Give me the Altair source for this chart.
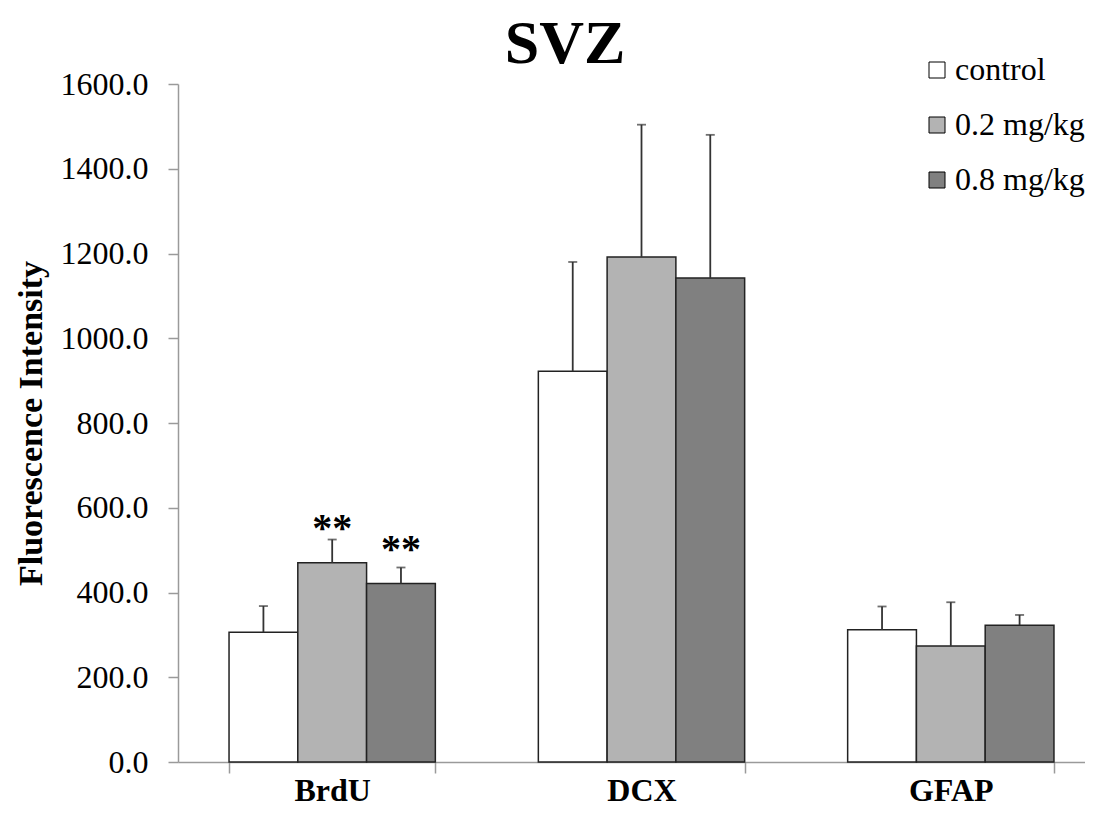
import altair as alt
import pandas as pd

categories = ["BrdU", "DCX", "GFAP"]
groups = ["control", "0.2 mg/kg", "0.8 mg/kg"]
colors = ["#ffffff", "#b3b3b3", "#808080"]

mean_control = [306, 922, 312]
mean_02 = [470, 1192, 274]
mean_08 = [421, 1142, 323]

err_control = [62, 258, 55]
err_02 = [55, 312, 103]
err_08 = [38, 338, 24]

stars_control = ["", "", ""]
stars_02 = ["**", "", ""]
stars_08 = ["**", "", ""]

chart_title = ["SVZ"]

rows = []
for g, ms, es, ss in [
    ("control", mean_control, err_control, stars_control),
    ("0.2 mg/kg", mean_02, err_02, stars_02),
    ("0.8 mg/kg", mean_08, err_08, stars_08),
]:
    for c, m, e, s in zip(categories, ms, es, ss):
        rows.append({"category": c, "group": g, "mean": m, "err": e, "star": s})
df = pd.DataFrame(rows)

FONT = "Liberation Serif"
AX = "#9a9a9a"

base = alt.Chart(df).transform_calculate(top="datum.mean + datum.err").encode(
    x=alt.X(
        "category:N",
        sort=categories,
        scale=alt.Scale(range=[0, 927], paddingInner=0.333, paddingOuter=0.165),
        axis=alt.Axis(
            title=None,
            labelAngle=0,
            labelFont=FONT,
            labelFontSize=32,
            labelFontWeight="bold",
            labelColor="black",
            labelPadding=2,
            tickBand="extent",
            tickSize=11,
            tickColor=AX,
            domainColor=AX,
            domainWidth=1.5,
            tickWidth=1.5,
        ),
    ),
    xOffset=alt.XOffset("group:N", sort=groups, scale=alt.Scale(paddingInner=0, paddingOuter=0)),
)

yscale = alt.Scale(domain=[0, 1600], nice=False)
yaxis = alt.Axis(
    title="Fluorescence Intensity",
    titleFont=FONT,
    titleFontSize=34,
    titleFontWeight="bold",
    titleColor="black",
    titlePadding=12,
    values=[0, 200, 400, 600, 800, 1000, 1200, 1400, 1600],
    format=".1f",
    labelFont=FONT,
    labelFontSize=32,
    labelColor="black",
    labelPadding=20,
    tickSize=10,
    tickColor=AX,
    tickWidth=1.5,
    domainColor=AX,
    domainWidth=1.5,
    grid=False,
)

bars = base.mark_bar(stroke="#222222", strokeWidth=1.5).encode(
    y=alt.Y("mean:Q", scale=yscale, axis=yaxis),
    fill=alt.Fill(
        "group:N",
        sort=groups,
        scale=alt.Scale(domain=groups, range=colors),
        legend=alt.Legend(
            title=None,
            orient="none",
            legendX=743,
            legendY=-30,
            symbolType="square",
            symbolSize=256,
            symbolStrokeColor="black",
            symbolStrokeWidth=1,
            labelFont=FONT,
            labelFontSize=32,
            labelColor="black",
            labelOffset=2,
            rowPadding=23,
        ),
    ),
)

rules = base.mark_rule(color="#333333", strokeWidth=1.8).encode(
    y=alt.Y("mean:Q", scale=yscale),
    y2="top:Q",
)

caps = base.mark_tick(color="#333333", thickness=1.8, size=9, orient="horizontal").encode(
    y=alt.Y("top:Q", scale=yscale),
)

stars = base.mark_text(
    font=FONT, fontSize=40, fontWeight="bold", color="black", baseline="alphabetic", dy=-22
).encode(
    y=alt.Y("mean:Q", scale=yscale),
    text="star:N",
)

title = alt.Chart(pd.DataFrame({"t": chart_title})).mark_text(
    font=FONT, fontSize=62, fontWeight="bold", color="black", align="center", baseline="alphabetic"
).encode(
    x=alt.value(387),
    y=alt.value(-21),
    text="t:N",
)

chart = (
    alt.layer(bars, rules, caps, stars, title)
    .properties(
        width=907,
        height=678,
        autosize=alt.AutoSizeParams(type="none"),
        padding={"left": 170, "top": 76, "right": 0, "bottom": 45},
    )
    .configure_view(stroke=None)
)

chart.save("out.html", embed_options={"renderer": "svg", "actions": False})
